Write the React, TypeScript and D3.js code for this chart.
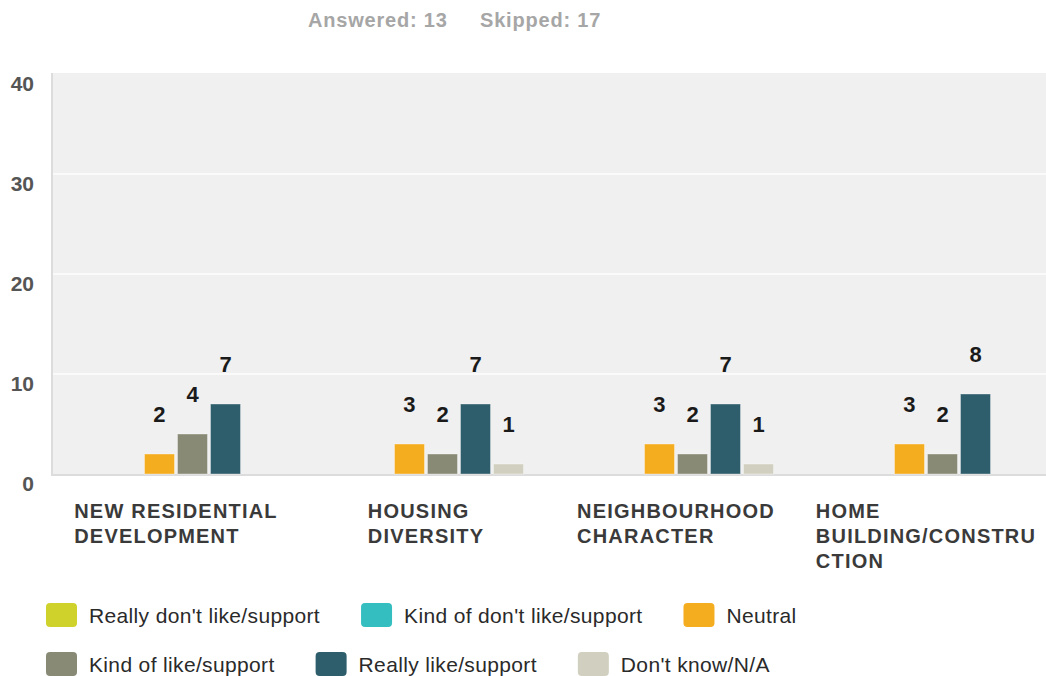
import React, { useEffect, useRef } from "react";
import * as d3 from "d3";

const categories = [
  ["NEW RESIDENTIAL", "DEVELOPMENT"],
  ["HOUSING", "DIVERSITY"],
  ["NEIGHBOURHOOD", "CHARACTER"],
  ["HOME", "BUILDING/CONSTRU", "CTION"],
];
const seriesNames = [
  "Really don't like/support",
  "Kind of don't like/support",
  "Neutral",
  "Kind of like/support",
  "Really like/support",
  "Don't know/N/A",
];
const seriesColors = ["#cfd22b", "#34bec0", "#f5ad20", "#898a75", "#2e5e6b", "#d1d0c0"];
// values[category][series]
const values = [
  [0, 0, 2, 4, 7, 0],
  [0, 0, 3, 2, 7, 1],
  [0, 0, 3, 2, 7, 1],
  [0, 0, 3, 2, 8, 0],
];
const yTicks = [0, 10, 20, 30, 40];

export default function App() {
  const ref = useRef<SVGSVGElement>(null);
  useEffect(() => {
    document.body.style.margin = "0";
    const svg = d3.select(ref.current);
    svg.selectAll("*").remove();
    const font = "'Liberation Sans', Arial, sans-serif";
    const left = 51, right = 1051, top = 73, bottom = 474;
    const y = d3.scaleLinear().domain([0, 40]).range([bottom, 74]);
    const catIdx = categories.map((_, i) => String(i));
    const x0 = d3.scaleBand().domain(catIdx).range([left, right]);
    const x1 = d3.scaleBand().domain(seriesNames).range([0, x0.bandwidth()]).paddingInner(0.0909).paddingOuter(0.833);

    // header
    const hdr = svg.append("g").attr("font-family", font).attr("font-weight", "bold").attr("font-size", 20)
      .attr("letter-spacing", 0.8).attr("fill", "#a6a6a6");
    hdr.append("text").attr("x", 308).attr("y", 27).text("Answered: 13");
    hdr.append("text").attr("x", 480).attr("y", 27).text("Skipped: 17");

    // plot bg
    svg.append("rect").attr("x", left).attr("y", top).attr("width", right - left).attr("height", bottom - top).attr("fill", "#f0f0f0");
    // gridlines
    svg.append("g").selectAll("line").data(yTicks.filter((t) => t > 0 && t < 40)).join("line")
      .attr("x1", left).attr("x2", right).attr("y1", (d) => y(d)).attr("y2", (d) => y(d))
      .attr("stroke", "#fafafa").attr("stroke-width", 2);
    // axis lines
    svg.append("line").attr("x1", left + 1).attr("x2", left + 1).attr("y1", top).attr("y2", bottom).attr("stroke", "#dcdcdc").attr("stroke-width", 2);
    svg.append("line").attr("x1", left).attr("x2", right).attr("y1", bottom + 1).attr("y2", bottom + 1).attr("stroke", "#dcdcdc").attr("stroke-width", 2);

    // y labels
    svg.append("g").selectAll("text").data(yTicks).join("text")
      .attr("x", 34).attr("y", (d) => y(d) + 17).attr("text-anchor", "end")
      .attr("font-family", font).attr("font-weight", "bold").attr("font-size", 21).attr("fill", "#555")
      .text((d) => d);

    // bars
    const groups = svg.append("g").selectAll("g").data(values).join("g")
      .attr("transform", (_, i) => `translate(${x0(String(i))},0)`);
    groups.each(function (row) {
      const g = d3.select(this);
      const data = row.map((v, s) => ({ v, s })).filter((d) => d.v > 0);
      g.selectAll("rect").data(data).join("rect")
        .attr("x", (d) => x1(seriesNames[d.s])!)
        .attr("width", x1.bandwidth())
        .attr("y", (d) => y(d.v))
        .attr("height", (d) => bottom - y(d.v))
        .attr("fill", (d) => seriesColors[d.s])
        .attr("stroke", "rgba(255,255,255,0.35)").attr("stroke-width", 1);
      g.selectAll("text").data(data).join("text")
        .attr("x", (d) => x1(seriesNames[d.s])! + x1.bandwidth() / 2)
        .attr("y", (d) => y(d.v) - 32)
        .attr("text-anchor", "middle")
        .attr("font-family", font).attr("font-weight", "bold").attr("font-size", 22).attr("fill", "#1a1a1a")
        .text((d) => d.v);
    });

    // category labels
    categories.forEach((lines, i) => {
      const cx = x0(String(i))! + x0.bandwidth() / 2;
      const g = svg.append("g").attr("font-family", font).attr("font-weight", "bold").attr("font-size", 20)
        .attr("fill", "#3a3a3a").attr("letter-spacing", 1.2);
      const texts = lines.map((l, k) => g.append("text").attr("y", 518 + k * 25).text(l));
      const maxW = d3.max(texts, (t) => (t.node() as SVGTextElement).getComputedTextLength()) || 0;
      texts.forEach((t) => t.attr("x", cx - maxW / 2));
    });

    // legend
    const leg = svg.append("g").attr("font-family", font).attr("font-size", 21).attr("letter-spacing", 0.35).attr("fill", "#2a2a2a");
    let lx = 46, ly = 603;
    const maxX = 1000;
    seriesNames.forEach((name, s) => {
      const t = leg.append("text").text(name);
      const w = (t.node() as SVGTextElement).getComputedTextLength();
      const itemW = 31 + 12 + w;
      if (lx + itemW > maxX) { lx = 46; ly += 49; }
      leg.append("rect").attr("x", lx).attr("y", ly).attr("width", 31).attr("height", 24).attr("rx", 4).attr("fill", seriesColors[s]);
      t.attr("x", lx + 43).attr("y", ly + 20);
      lx += itemW + 41;
    });
  }, []);
  return <svg ref={ref} width={1046} height={676} style={{ display: "block", background: "#fff" }} />;
}
